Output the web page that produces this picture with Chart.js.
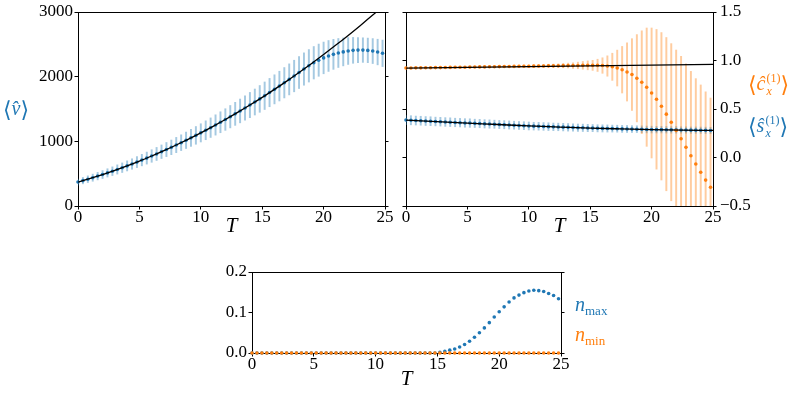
<!DOCTYPE html>
<html>
<head>
<meta charset="utf-8">
<script src="https://cdn.jsdelivr.net/npm/chart.js@4.4.0/dist/chart.umd.min.js"></script>
<style>
  body { margin: 0; background: #fff; }
  #wrap { position: relative; width: 793px; height: 397px; overflow: hidden; background: #fff; }
  canvas { position: absolute; }
  .lab { position: absolute; font-family: 'Liberation Serif', 'DejaVu Serif', serif; font-size: 20px; line-height: 1; white-space: nowrap; }
  .br { font-family: 'DejaVu Serif', serif; font-size: 22px; vertical-align: middle; }
  .st { display: inline-block; vertical-align: middle; font-size: 12px; line-height: 13px; margin-left: 1px; }
  .st span { display: block; }
  .lab sub { font-size: 13px; font-style: normal; vertical-align: -4px; }
</style>
</head>
<body>
<div id="wrap">
  <canvas id="c1" width="395" height="250" style="left:0;top:0"></canvas>
  <canvas id="c2" width="398" height="250" style="left:395px;top:0"></canvas>
  <canvas id="c3" width="400" height="139" style="left:200px;top:258px"></canvas>

  <div class="lab" style="left:3px;top:98px;color:#1f77b4"><span class="br">⟨</span><i>v̂</i><span class="br">⟩</span></div>
  <div class="lab" style="left:748px;top:72px;color:#ff7f0e"><span class="br">⟨</span><i>ĉ</i><span class="st"><span>(1)</span><span><i>x</i></span></span><span class="br">⟩</span></div>
  <div class="lab" style="left:748px;top:114px;color:#1f77b4"><span class="br">⟨</span><i>ŝ</i><span class="st"><span>(1)</span><span><i>x</i></span></span><span class="br">⟩</span></div>
  <div class="lab" style="left:575px;top:294px;color:#1f77b4"><i>n</i><sub>max</sub></div>
  <div class="lab" style="left:575px;top:324px;color:#ff7f0e"><i>n</i><sub>min</sub></div>
</div>
<script>
// DATA
// -------------------------------------------------------------------------
const T = [0, 0.4, 0.8, 1.2, 1.6, 2, 2.4, 2.8, 3.2, 3.6,
  4, 4.4, 4.8, 5.2, 5.6, 6, 6.4, 6.8, 7.2, 7.6,
  8, 8.4, 8.8, 9.2, 9.6, 10, 10.4, 10.8, 11.2, 11.6,
  12, 12.4, 12.8, 13.2, 13.6, 14, 14.4, 14.8, 15.2, 15.6,
  16, 16.4, 16.8, 17.2, 17.6, 18, 18.4, 18.8, 19.2, 19.6,
  20, 20.4, 20.8, 21.2, 21.6, 22, 22.4, 22.8, 23.2, 23.6,
  24, 24.4, 24.8];

// <v>
const V = [370, 392, 414, 438, 462, 486, 512, 538, 565, 592,
  620, 649, 679, 710, 741, 773, 805, 839, 873, 907,
  943, 979, 1016, 1054, 1092, 1131, 1171, 1211, 1253, 1295,
  1337, 1381, 1425, 1470, 1515, 1561, 1608, 1656, 1705, 1754,
  1804, 1854, 1906, 1958, 2010, 2064, 2118, 2168, 2215, 2255,
  2290, 2320, 2345, 2366, 2383, 2397, 2407, 2411, 2411, 2406,
  2396, 2381, 2361];
const V_ERR = [46, 49, 52, 55, 58, 61, 64, 67, 71, 74,
  78, 81, 85, 89, 93, 97, 101, 105, 109, 113,
  118, 122, 127, 132, 137, 141, 146, 151, 157, 162,
  167, 173, 178, 184, 189, 195, 201, 207, 213, 219,
  225, 230, 235, 240, 244, 247, 250, 251, 251, 249,
  245, 239, 232, 224, 216, 208, 200, 193, 190, 190,
  193, 198, 205];
const T_V_LINE = [0, 1, 2, 3, 4, 5, 6, 7, 8, 9, 10, 11, 12, 13, 14, 15, 16, 17, 18, 19, 20, 21, 22, 23, 24, 25];
const V_LINE = [370, 426, 486, 551, 620, 694, 773, 855, 943, 1035, 1131, 1232, 1337, 1447, 1561, 1680,
  1804, 1931, 2064, 2201, 2342, 2488, 2638, 2793, 2952, 3116];

// <c_x^(1)>
const C = [0.922, 0.923, 0.924, 0.924, 0.925, 0.926, 0.927, 0.927, 0.928, 0.929,
  0.930, 0.931, 0.931, 0.932, 0.933, 0.934, 0.934, 0.935, 0.936, 0.937,
  0.938, 0.938, 0.939, 0.940, 0.941, 0.941, 0.942, 0.943, 0.944, 0.945,
  0.945, 0.946, 0.947, 0.948, 0.948, 0.949, 0.950, 0.950, 0.950, 0.950,
  0.948, 0.943, 0.935, 0.922, 0.905, 0.882, 0.855, 0.817, 0.776, 0.725,
  0.665, 0.600, 0.528, 0.447, 0.364, 0.278, 0.193, 0.106, 0.018, -0.067,
  -0.152, -0.233, -0.307];
const C_ERR = [0.005, 0.005, 0.005, 0.006, 0.006, 0.006, 0.006, 0.007, 0.007, 0.007,
  0.007, 0.008, 0.008, 0.008, 0.009, 0.009, 0.009, 0.010, 0.010, 0.010,
  0.011, 0.011, 0.012, 0.012, 0.013, 0.013, 0.014, 0.015, 0.016, 0.017,
  0.018, 0.020, 0.022, 0.025, 0.029, 0.034, 0.040, 0.046, 0.052, 0.063,
  0.080, 0.105, 0.140, 0.185, 0.240, 0.300, 0.370, 0.450, 0.530, 0.610,
  0.670, 0.720, 0.760, 0.790, 0.810, 0.830, 0.850, 0.860, 0.870, 0.880,
  0.900, 0.910, 0.920];
const T_C_LINE = [0, 5, 10, 15, 20, 25];
const C_LINE = [0.921, 0.929, 0.937, 0.945, 0.953, 0.961];

// <s_x^(1)>
const S = [0.386, 0.384, 0.381, 0.379, 0.376, 0.374, 0.371, 0.369, 0.366, 0.364,
  0.361, 0.359, 0.356, 0.355, 0.352, 0.350, 0.347, 0.345, 0.343, 0.340,
  0.338, 0.335, 0.333, 0.330, 0.328, 0.325, 0.323, 0.322, 0.320, 0.318,
  0.316, 0.315, 0.313, 0.311, 0.309, 0.307, 0.306, 0.304, 0.303, 0.301,
  0.300, 0.299, 0.298, 0.297, 0.295, 0.294, 0.293, 0.292, 0.291, 0.289,
  0.288, 0.287, 0.287, 0.286, 0.285, 0.285, 0.284, 0.283, 0.282, 0.282,
  0.281, 0.280, 0.279];
const S_ERR = [0.047, 0.047, 0.046, 0.046, 0.046, 0.046, 0.045, 0.045, 0.045, 0.045,
  0.044, 0.044, 0.044, 0.044, 0.043, 0.043, 0.043, 0.043, 0.042, 0.042,
  0.042, 0.042, 0.041, 0.041, 0.041, 0.041, 0.040, 0.040, 0.040, 0.040,
  0.039, 0.039, 0.039, 0.039, 0.038, 0.038, 0.038, 0.038, 0.037, 0.037,
  0.037, 0.037, 0.036, 0.036, 0.036, 0.036, 0.035, 0.035, 0.035, 0.035,
  0.035, 0.034, 0.034, 0.034, 0.034, 0.034, 0.033, 0.033, 0.033, 0.033,
  0.033, 0.033, 0.033];
const T_S_LINE = [0, 2.5, 5, 7.5, 10, 12.5, 15, 17.5, 20, 22.5, 25];
const S_LINE = [0.386, 0.370, 0.355, 0.340, 0.325, 0.314, 0.303, 0.295, 0.288, 0.283, 0.279];

// n_max / n_min
const N_MAX = [0, 0, 0, 0, 0, 0, 0, 0, 0, 0,
  0, 0, 0, 0, 0, 0, 0, 0, 0, 0,
  0, 0, 0, 0, 0, 0, 0, 0, 0, 0,
  0, 0, 0, 0, 0, 0, 0, 0, 0.002, 0.004,
  0.007, 0.010, 0.015, 0.021, 0.029, 0.039, 0.050, 0.062, 0.075, 0.089,
  0.102, 0.114, 0.126, 0.136, 0.143, 0.149, 0.153, 0.155, 0.154, 0.152,
  0.147, 0.142, 0.134];
const N_MIN = [0, 0, 0, 0, 0, 0, 0, 0, 0, 0,
  0, 0, 0, 0, 0, 0, 0, 0, 0, 0,
  0, 0, 0, 0, 0, 0, 0, 0, 0, 0,
  0, 0, 0, 0, 0, 0, 0, 0, 0, 0,
  0, 0, 0, 0, 0, 0, 0, 0, 0, 0,
  0, 0, 0, 0, 0, 0, 0, 0, 0, 0,
  0, 0, 0];

const X_TICKS = [0, 5, 10, 15, 20, 25];
// -------------------------------------------------------------------------

// STYLE
const BLUE = '#1f77b4';
const ORANGE = '#ff7f0e';
const BLUE_ERR = 'rgba(31,119,180,0.4)';
const ORANGE_ERR = 'rgba(255,127,14,0.4)';
const FONT = "'Liberation Serif', 'DejaVu Serif', serif";
const TICK_FONT = { family: FONT, size: 17, lineHeight: 1 };

Chart.defaults.animation = false;
Chart.defaults.plugins.legend.display = false;
Chart.defaults.plugins.tooltip.enabled = false;

// --- HELPERS ---
const pts = (xs, ys) => xs.map((x, i) => ({ x: x, y: ys[i] }));
const bars = (xs, ys, es) => xs.map((x, i) => ({ x: x, y: [ys[i] - es[i], ys[i] + es[i]] }));
const minus = v => (v < 0 ? '\u2212' : '') + Math.abs(v).toFixed(1);

// top spine (matplotlib box)
const topSpine = {
    id: 'topSpine',
    afterDraw(chart) {
        const { ctx, chartArea: a } = chart;
        ctx.save();
        ctx.strokeStyle = '#000';
        ctx.lineWidth = 1;
        ctx.beginPath();
        ctx.moveTo(a.left, Math.round(a.top) + 0.5);
        ctx.lineTo(a.right, Math.round(a.top) + 0.5);
        ctx.stroke();
        ctx.restore();
    }
};

function xScale(titlePad) {
    return {
        type: 'linear', min: 0, max: 25, offset: false,
        afterBuildTicks: s => { s.ticks = X_TICKS.map(v => ({ value: v })); },
        ticks: { color: '#000', font: TICK_FONT, padding: 0, maxRotation: 0, autoSkip: false },
        grid: { drawOnChartArea: false, tickLength: 3.5, color: '#000', offset: false },
        border: { color: '#000', width: 1 },
        title: { display: true, text: 'T', color: '#000', font: { family: FONT, size: 21, style: 'italic', lineHeight: 1 }, padding: { top: 0, bottom: titlePad } },
        afterFit: s => { s.height = 44; }
    };
}

function yScale(pos, min, max, step, width, showLabels, fmt) {
    return {
        type: 'linear', position: pos, min: min, max: max,
        ticks: {
            stepSize: step, font: TICK_FONT, padding: pos === 'left' ? 1.5 : 3.5,
            color: showLabels ? '#000' : 'rgba(0,0,0,0)',
            callback: fmt || (v => v)
        },
        grid: { drawOnChartArea: false, tickLength: 3.5, color: '#000' },
        border: { color: '#000', width: 1 },
        afterFit: s => { s.width = width; }
    };
}

const base = (top) => ({
    responsive: false,
    devicePixelRatio: 1,
    layout: { padding: { top: top, left: 0, right: 0, bottom: 0 } }
});

// --- PANEL 1: <v> ---
new Chart(document.getElementById('c1'), {
    type: 'scatter',
    data: {
        datasets: [
            { type: 'line', data: pts(T_V_LINE, V_LINE), borderColor: '#000', borderWidth: 1.3, pointRadius: 0, cubicInterpolationMode: 'monotone', order: 0 },
            { type: 'scatter', data: pts(T, V), backgroundColor: BLUE, pointRadius: 1.8, borderWidth: 0, clip: false, order: 1 },
            { type: 'bar', data: bars(T, V, V_ERR), backgroundColor: BLUE_ERR, barThickness: 1.3, grouped: false, order: 2 }
        ]
    },
    options: Object.assign(base(9), {
        scales: {
            x: xScale(13),
            y: yScale('left', 0, 3000, 1000, 78, true),
            y2: yScale('right', 0, 3000, 1000, 10, false)
        }
    }),
    plugins: [topSpine]
});

// --- PANEL 2: <c>, <s> ---
new Chart(document.getElementById('c2'), {
    type: 'scatter',
    data: {
        datasets: [
            { type: 'line', data: pts(T_C_LINE, C_LINE), yAxisID: 'y', borderColor: '#000', borderWidth: 1.3, pointRadius: 0, order: 0 },
            { type: 'line', data: pts(T_S_LINE, S_LINE), yAxisID: 'y', borderColor: '#000', borderWidth: 1.3, pointRadius: 0, cubicInterpolationMode: 'monotone', order: 0 },
            { type: 'scatter', data: pts(T, C), yAxisID: 'y', backgroundColor: ORANGE, pointRadius: 1.8, borderWidth: 0, clip: false, order: 1 },
            { type: 'scatter', data: pts(T, S), yAxisID: 'y', backgroundColor: BLUE, pointRadius: 1.8, borderWidth: 0, clip: false, order: 2 },
            { type: 'bar', data: bars(T, C, C_ERR), yAxisID: 'y', backgroundColor: ORANGE_ERR, barThickness: 1.3, grouped: false, order: 3 },
            { type: 'bar', data: bars(T, S, S_ERR), yAxisID: 'y', backgroundColor: BLUE_ERR, barThickness: 1.3, grouped: false, order: 4 }
        ]
    },
    options: Object.assign(base(9), {
        scales: {
            x: xScale(13),
            yL: yScale('left', -0.5, 1.5, 0.5, 11, false),
            y: yScale('right', -0.5, 1.5, 0.5, 80, true, minus)
        }
    }),
    plugins: [topSpine]
});

// --- PANEL 3: n_max, n_min ---
new Chart(document.getElementById('c3'), {
    type: 'scatter',
    data: {
        datasets: [
            { type: 'scatter', data: pts(T, N_MIN), backgroundColor: ORANGE, pointRadius: 1.8, borderWidth: 0, clip: false, order: 0 },
            { type: 'scatter', data: pts(T, N_MAX), backgroundColor: BLUE, pointRadius: 1.8, borderWidth: 0, clip: false, order: 1 }
        ]
    },
    options: Object.assign(base(14), {
        scales: {
            x: xScale(7.5),
            y: yScale('left', 0, 0.2, 0.1, 52, true, v => v.toFixed(1)),
            y2: yScale('right', 0, 0.2, 0.1, 39, false)
        }
    }),
    plugins: [topSpine]
});
</script>
</body>
</html>
